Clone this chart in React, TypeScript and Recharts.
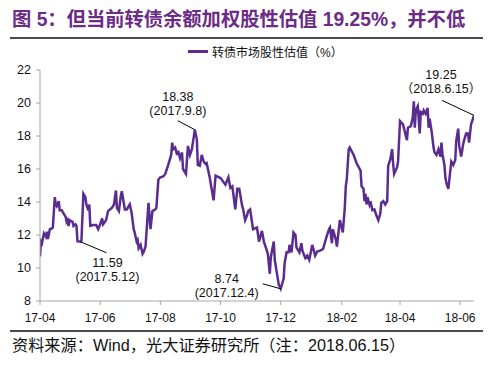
import * as React from "react";
import { LineChart, Line, XAxis, YAxis, ReferenceDot, Legend } from "recharts";

const dates = [
  "2017-04-01", "2017-04-02", "2017-04-03", "2017-04-05", "2017-04-07", "2017-04-08", "2017-04-09", "2017-04-11",
  "2017-04-13", "2017-04-14", "2017-04-16", "2017-04-17", "2017-04-18", "2017-04-20", "2017-04-21", "2017-04-23",
  "2017-04-25", "2017-04-27", "2017-04-28", "2017-04-29", "2017-04-30", "2017-05-01", "2017-05-04", "2017-05-05",
  "2017-05-07", "2017-05-08", "2017-05-09", "2017-05-12", "2017-05-13", "2017-05-15", "2017-05-17", "2017-05-18",
  "2017-05-20", "2017-05-21", "2017-05-22", "2017-05-25", "2017-05-28", "2017-05-30", "2017-06-01", "2017-06-03",
  "2017-06-04", "2017-06-07", "2017-06-09", "2017-06-13", "2017-06-15", "2017-06-17", "2017-06-18", "2017-06-20",
  "2017-06-22", "2017-06-23", "2017-06-26", "2017-06-28", "2017-07-01", "2017-07-03", "2017-07-05", "2017-07-06",
  "2017-07-08", "2017-07-09", "2017-07-10", "2017-07-12", "2017-07-14", "2017-07-15", "2017-07-17", "2017-07-20",
  "2017-07-22", "2017-07-24", "2017-07-27", "2017-07-28", "2017-07-30", "2017-08-01", "2017-08-04", "2017-08-06",
  "2017-08-09", "2017-08-12", "2017-08-13", "2017-08-14", "2017-08-16", "2017-08-18", "2017-08-19", "2017-08-21",
  "2017-08-23", "2017-08-24", "2017-08-27", "2017-08-29", "2017-08-31", "2017-09-02", "2017-09-03", "2017-09-05",
  "2017-09-07", "2017-09-08", "2017-09-10", "2017-09-12", "2017-09-14", "2017-09-16", "2017-09-17", "2017-09-20",
  "2017-09-22", "2017-09-24", "2017-09-26", "2017-10-01", "2017-10-06", "2017-10-09", "2017-10-11", "2017-10-13",
  "2017-10-16", "2017-10-18", "2017-10-20", "2017-10-23", "2017-10-24", "2017-10-26", "2017-10-28", "2017-10-29",
  "2017-10-31", "2017-11-03", "2017-11-07", "2017-11-09", "2017-11-12", "2017-11-14", "2017-11-17", "2017-11-18",
  "2017-11-20", "2017-11-21", "2017-11-24", "2017-11-25", "2017-11-27", "2017-11-29", "2017-12-01", "2017-12-04",
  "2017-12-05", "2017-12-07", "2017-12-09", "2017-12-10", "2017-12-12", "2017-12-14", "2017-12-16", "2017-12-17",
  "2017-12-20", "2017-12-22", "2017-12-23", "2017-12-26", "2017-12-28", "2017-12-30", "2018-01-02", "2018-01-05",
  "2018-01-07", "2018-01-10", "2018-01-13", "2018-01-16", "2018-01-19", "2018-01-20", "2018-01-22", "2018-01-23",
  "2018-01-26", "2018-01-27", "2018-01-30", "2018-02-02", "2018-02-04", "2018-02-05", "2018-02-06", "2018-02-08",
  "2018-02-09", "2018-02-13", "2018-02-16", "2018-02-20", "2018-02-21", "2018-02-23", "2018-02-24", "2018-02-25",
  "2018-02-26", "2018-02-27", "2018-03-01", "2018-03-02", "2018-03-04", "2018-03-06", "2018-03-08", "2018-03-10",
  "2018-03-12", "2018-03-13", "2018-03-15", "2018-03-17", "2018-03-19", "2018-03-20", "2018-03-22", "2018-03-24",
  "2018-03-25", "2018-03-26", "2018-03-29", "2018-03-30", "2018-04-01", "2018-04-04", "2018-04-08", "2018-04-09",
  "2018-04-12", "2018-04-14", "2018-04-15", "2018-04-16", "2018-04-17", "2018-04-19", "2018-04-21", "2018-04-22",
  "2018-04-24", "2018-04-25", "2018-04-27", "2018-04-29", "2018-04-30", "2018-05-01", "2018-05-03", "2018-05-05",
  "2018-05-06", "2018-05-08", "2018-05-10", "2018-05-12", "2018-05-13", "2018-05-14", "2018-05-16", "2018-05-17",
  "2018-05-18", "2018-05-20", "2018-05-22", "2018-05-23", "2018-05-25", "2018-05-27", "2018-05-28", "2018-05-30",
  "2018-05-31", "2018-06-02", "2018-06-04", "2018-06-05", "2018-06-07", "2018-06-09", "2018-06-10", "2018-06-12",
  "2018-06-15",
];

const values = [
  10.7, 11.6, 11.5, 12.1, 11.9, 12.2, 11.75, 12.35,
  12.4, 12.45, 14.3, 13.85, 13.75, 14.05, 13.5, 13.5,
  13.3, 13.1, 12.8, 12.9, 12.55, 12.9, 12.8, 12.55,
  12.65, 12.55, 11.62, 11.59, 11.65, 14.5, 14.3, 13.85,
  13.5, 13.85, 12.55, 12.6, 12.6, 12.35, 12.65, 13.0,
  12.65, 12.9, 13.45, 13.65, 13.85, 14.7, 13.65, 13.45,
  14.4, 14.65, 13.55, 13.55, 13.85, 13.3, 12.35, 12.15,
  11.6, 11.7, 11.2, 11.4, 10.85, 10.95, 11.3, 13.95,
  12.35, 13.45, 13.55, 13.65, 15.35, 15.5, 15.55, 15.7,
  16.25, 16.85, 17.6, 17.2, 17.3, 16.85, 17.1, 16.65,
  17.0, 16.0, 15.7, 17.4, 16.85, 17.2, 17.6, 18.38,
  17.8, 16.25, 16.2, 16.85, 16.45, 16.3, 16.35, 15.5,
  14.8, 14.1, 15.6, 15.45, 15.05, 15.5, 14.85, 14.95,
  13.55, 14.8, 14.8, 13.75, 13.55, 12.9, 13.2, 13.45,
  13.55, 12.35, 12.45, 11.6, 12.25, 11.6, 11.05, 10.85,
  9.65, 10.65, 11.6, 10.5, 9.75, 9.0, 8.74, 9.35,
  10.3, 10.95, 10.95, 11.4, 10.95, 12.15, 12.0, 11.25,
  10.95, 11.5, 11.05, 10.6, 10.75, 10.5, 11.4, 10.75,
  11.0, 11.05, 11.15, 11.8, 12.35, 12.45, 11.5, 12.35,
  11.7, 11.3, 12.9, 12.15, 13.65, 14.95, 15.35, 17.2,
  17.3, 16.85, 16.35, 15.9, 14.95, 14.8, 14.05, 14.5,
  13.85, 14.3, 13.85, 14.05, 13.5, 13.55, 13.2, 12.9,
  13.3, 13.95, 14.05, 13.85, 14.05, 16.2, 16.55, 17.2,
  16.35, 15.7, 16.1, 16.45, 18.9, 18.7, 17.75, 18.5,
  18.6, 19.15, 20.1, 18.5, 19.55, 19.8, 18.15, 19.45,
  19.35, 19.55, 19.35, 19.7, 18.5, 19.05, 18.3, 17.3,
  17.0, 16.85, 17.2, 16.75, 17.6, 16.9, 16.25, 15.5,
  15.15, 14.8, 15.9, 16.45, 16.25, 16.55, 17.7, 18.45,
  17.4, 16.75, 17.5, 17.75, 18.15, 18.15, 17.6, 18.7,
  19.25,
];

const seriesName = "转债市场股性估值（%）";
const tickDates = [
  "2017-04-01", "2017-06-01", "2017-08-01", "2017-10-01",
  "2017-12-01", "2018-02-01", "2018-04-01", "2018-06-01",
];
const yTicks = [8, 10, 12, 14, 16, 18, 20, 22];

const noteDates = ["2017-05-12", "2017-09-05", "2017-12-01", "2018-06-15"];
const noteValues = [11.59, 18.38, 8.74, 19.25];
const noteLabels = ["11.59", "18.38", "8.74", "19.25"];
const noteSubs = ["(2017.5.12)", "(2017.9.8)", "(2017.12.4)", "（2018.6.15）"];
// pixel offsets of leader end and text centre, relative to the point
const noteOffsets = [
  { lx: 26, ly: 11, tx: 27, ty: 21 },
  { lx: -17, ly: -9, tx: -17, ty: -33 },
  { lx: -18, ly: -5, tx: -54, ty: -10 },
  { lx: -32, ly: -15, tx: -33, ty: -40 },
];

const toTime = (d: string) => Date.parse(d + "T00:00:00Z");
const data = dates.map((d, i) => ({ t: toTime(d), v: values[i] }));

const LINE = "#5B2C8F";
const AXIS = "#A6A6A6";
const LATIN = "'Liberation Sans', Arial, 'Noto Sans CJK SC', sans-serif";

const fmtTick = (t: number) => {
  const d = new Date(t);
  const yy = String(d.getUTCFullYear()).slice(2);
  const mm = String(d.getUTCMonth() + 1).padStart(2, "0");
  return `${yy}-${mm}`;
};

function NoteShape(props: any) {
  const { cx, cy, idx } = props;
  const o = noteOffsets[idx];
  return (
    <g>
      <line x1={cx} y1={cy} x2={cx + o.lx} y2={cy + o.ly} stroke="#000" strokeWidth={1} />
      <text
        x={cx + o.tx}
        y={cy + o.ty}
        textAnchor="middle"
        dominantBaseline="central"
        fontSize={12.5}
        fontFamily={LATIN}
        fill="#111"
      >
        {noteLabels[idx]}
      </text>
      <text
        x={cx + o.tx}
        y={cy + o.ty + 14}
        textAnchor="middle"
        dominantBaseline="central"
        fontSize={12.5}
        fontFamily={LATIN}
        fill="#111"
      >
        {noteSubs[idx]}
      </text>
    </g>
  );
}

function LegendBox() {
  return (
    <div style={{ display: "flex", alignItems: "center", fontFamily: LATIN, fontSize: 12, color: "#111" }}>
      <span style={{ display: "inline-block", width: 20, height: 3, background: LINE, marginRight: 4 }} />
      <span>{seriesName}</span>
    </div>
  );
}

export default function App() {
  return (
    <div
      style={{
        position: "fixed",
        left: 0,
        top: 0,
        width: 500,
        height: 368,
        background: "#fff",
        overflow: "hidden",
      }}
    >
      <div
        style={{
          position: "absolute",
          left: 12,
          top: 4,
          fontFamily: LATIN,
          fontWeight: 700,
          fontSize: 19.3,
          color: "#6B2B86",
          whiteSpace: "nowrap",
        }}
      >
        图 5：但当前转债余额加权股性估值 19.25%，并不低
      </div>
      <div style={{ position: "absolute", left: 10, top: 37, width: 473, height: 2, background: "#4a4a4a" }} />

      <LineChart
        width={500}
        height={368}
        data={data}
        margin={{ top: 53, right: 26, bottom: 37, left: 0 }}
      >
        <XAxis
          dataKey="t"
          type="number"
          domain={[toTime("2017-04-01"), toTime("2018-06-15")]}
          ticks={tickDates.map(toTime)}
          tickFormatter={fmtTick}
          height={30}
          stroke={AXIS}
          tickSize={4}
          tickMargin={8}
          tick={{ fill: "#111", fontSize: 12, fontFamily: LATIN }}
          allowDataOverflow
        />
        <YAxis
          domain={[8, 22]}
          ticks={yTicks}
          width={40}
          stroke={AXIS}
          tickSize={4}
          tickMargin={5}
          tick={{ fill: "#111", fontSize: 12.5, fontFamily: LATIN }}
          allowDataOverflow
        />
        <Legend
          verticalAlign="top"
          align="left"
          content={() => <LegendBox />}
          wrapperStyle={{ position: "absolute", top: 43, left: 188, width: "auto" }}
        />
        <Line
          type="linear"
          dataKey="v"
          name={seriesName}
          stroke={LINE}
          strokeWidth={2.5}
          dot={false}
          isAnimationActive={false}
        />
        {noteDates.map((d, i) => (
          <ReferenceDot
            key={d}
            x={toTime(d)}
            y={noteValues[i]}
            r={0}
            ifOverflow="visible"
            shape={(p: any) => <NoteShape {...p} idx={i} />}
          />
        ))}
      </LineChart>

      <div style={{ position: "absolute", left: 10, top: 330, width: 473, height: 2, background: "#4a4a4a" }} />
      <div
        style={{
          position: "absolute",
          left: 12,
          top: 332,
          fontFamily: LATIN,
          fontSize: 16.2,
          color: "#111",
          whiteSpace: "nowrap",
        }}
      >
        资料来源：Wind，光大证券研究所（注：2018.06.15）
      </div>
    </div>
  );
}
